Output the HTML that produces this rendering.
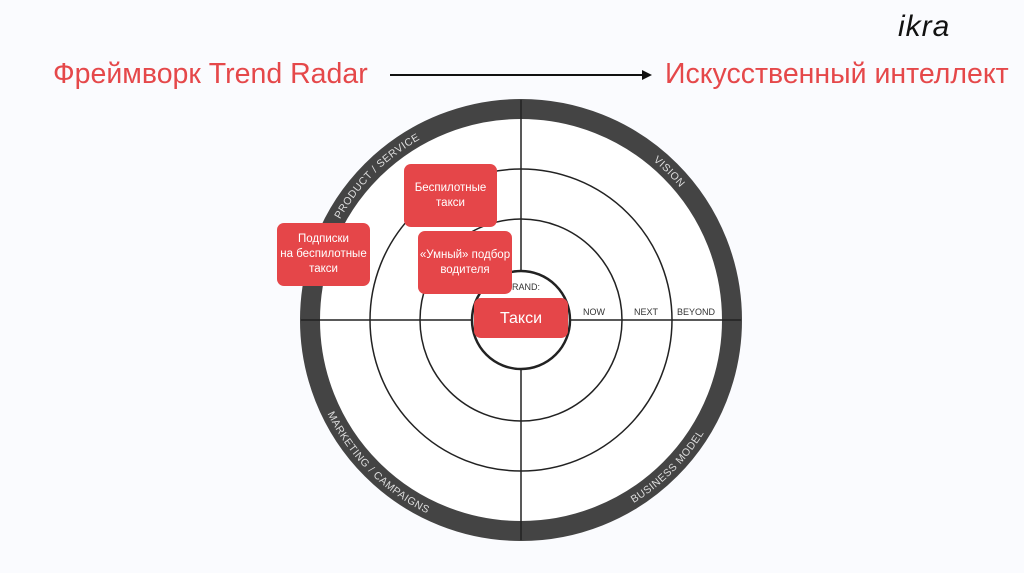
<!DOCTYPE html>
<html><head><meta charset="utf-8"><style>
html,body{margin:0;padding:0;background:#fafbfe;}
body{width:1024px;height:573px;position:relative;overflow:hidden;font-family:"Liberation Sans",sans-serif;}
.t{position:absolute;color:#e5484a;font-size:28.5px;top:58px;white-space:nowrap;}
.box{position:absolute;background:#e54649;border-radius:7px;color:#fff;font-size:11.5px;line-height:15px;text-align:center;display:flex;align-items:center;justify-content:center;}
</style></head><body>
<div style="position:absolute;left:898px;top:10px;font-size:30px;font-style:italic;color:#111;letter-spacing:1px;">ikra</div>
<div class="t" style="left:53px;">Фреймворк Trend Radar</div>
<div class="t" style="left:665px;">Искусственный интеллект</div>
<svg width="1024" height="573" style="position:absolute;left:0;top:0">
<line x1="390" y1="75" x2="643" y2="75" stroke="#111" stroke-width="2"/>
<polygon points="652,75 642,70 642,80" fill="#111"/>
<circle cx="521" cy="320" r="211" fill="#fff" stroke="#444" stroke-width="20"/>
<circle cx="521" cy="320" r="151" fill="none" stroke="#222" stroke-width="1.5"/>
<circle cx="521" cy="320" r="101" fill="none" stroke="#222" stroke-width="1.5"/>
<line x1="521" y1="100" x2="521" y2="540" stroke="#222" stroke-width="1.5"/>
<line x1="301" y1="320" x2="741" y2="320" stroke="#222" stroke-width="1.5"/>
<circle cx="521" cy="320" r="49" fill="#fff" stroke="#222" stroke-width="2.5"/>
<defs>
<path id="a1" d="M 314 320 A 207 207 0 0 1 521 113"/>
<path id="a2" d="M 521 113 A 207 207 0 0 1 728 320"/>
<path id="a3" d="M 306 320 A 215 215 0 0 0 521 535"/>
<path id="a4" d="M 521 535 A 215 215 0 0 0 736 320"/>
</defs>
<g font-size="10.5" fill="#ddd" font-family="Liberation Sans,sans-serif" text-anchor="middle" letter-spacing="0.5">
<text><textPath href="#a1" startOffset="50%">PRODUCT / SERVICE</textPath></text>
<text><textPath href="#a2" startOffset="50%">VISION</textPath></text>
<text><textPath href="#a3" startOffset="50%">MARKETING / CAMPAIGNS</textPath></text>
<text><textPath href="#a4" startOffset="50%">BUSINESS MODEL</textPath></text>
</g>
<g font-size="9" fill="#333" font-family="Liberation Sans,sans-serif" text-anchor="middle">
<text x="594" y="315">NOW</text>
<text x="646" y="315">NEXT</text>
<text x="696" y="315">BEYOND</text>
<text x="523" y="290">BRAND:</text>
</g>
</svg>
<div class="box" style="left:404px;top:164px;width:93px;height:63px;">Беспилотные<br>такси</div>
<div class="box" style="left:277px;top:223px;width:93px;height:63px;">Подписки<br>на беспилотные<br>такси</div>
<div class="box" style="left:418px;top:231px;width:94px;height:63px;">«Умный» подбор<br>водителя</div>
<div class="box" style="left:474px;top:298px;width:94px;height:40px;font-size:16px;">Такси</div>
</body></html>
